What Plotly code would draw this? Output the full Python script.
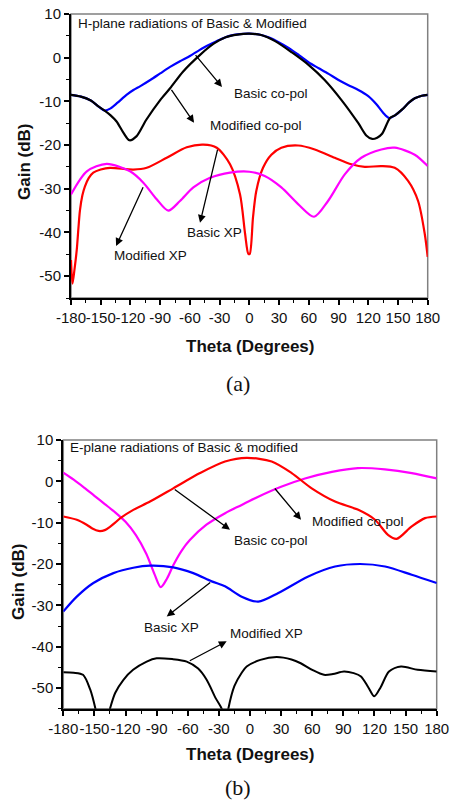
import plotly.graph_objects as go

# ---------------- (a) H-plane ----------------
h_blue_theta = [-180, -170, -160, -152, -146, -140, -133, -124, -117, -110, -100, -90, -80, -70, -60, -50, -40, -30, -20, -10, 0, 10, 20, 30, 40, 50, 60, 70, 80, 90, 100, 110, 120, 128, 135, 141, 147, 154, 161, 167, 174, 180]
h_blue_gain = [-8.5, -8.9, -9.8, -11.2, -12.1, -11.6, -10.3, -8.5, -7.4, -6.5, -5.1, -3.6, -2.1, -0.8, 0.4, 1.8, 3.0, 4.1, 5.0, 5.4, 5.5, 5.3, 4.6, 3.5, 2.2, 0.6, -1.1, -2.4, -3.7, -5.1, -6.3, -7.4, -8.8, -10.6, -12.6, -13.8, -13.2, -11.9, -10.3, -9.3, -8.7, -8.5]

h_black_theta = [-180, -170, -160, -152, -146, -140, -134, -127, -121, -114, -104, -90, -80, -67, -50, -36, -24, -12, 0, 12, 26, 43, 60, 76, 93, 110, 118, 124, 129, 134, 142, 147, 154, 161, 167, 174, 180]
h_black_gain = [-8.5, -8.9, -9.8, -11.2, -12.1, -13.2, -14.6, -17.2, -18.9, -18.0, -14.2, -9.7, -7.0, -3.2, 0.6, 3.2, 4.7, 5.3, 5.5, 5.2, 3.8, 1.2, -1.7, -5.1, -9.7, -15.0, -17.8, -18.6, -18.3, -17.4, -13.8, -13.2, -11.9, -10.3, -9.3, -8.7, -8.5]

h_red_theta = [-180, -178.5, -176.5, -174.2, -172.5, -171, -168.5, -166, -162, -157.5, -150, -140.6, -117, -103.6, -83.4, -63.2, -46.4, -32.9, -19.5, -9.4, -4.3, -1, 0.4, 3.7, 7, 13.8, 22.2, 32.3, 49.2, 66, 86.2, 103, 116.5, 133.2, 146.7, 160.2, 170.3, 177, 180]
h_red_gain = [-46.3, -51.7, -48.5, -44.0, -39.0, -35.0, -31.5, -29.5, -27.5, -26.3, -25.6, -25.2, -25.6, -25.2, -22.9, -20.5, -19.9, -20.6, -24.4, -31.3, -40.3, -44.9, -44.9, -36.5, -30.5, -25.2, -22.2, -20.6, -20.1, -21.0, -22.9, -24.4, -25.0, -24.8, -25.2, -28.2, -32.8, -40.3, -45.6]

h_magenta_theta = [-180, -164, -144, -120.4, -107, -93.5, -81.8, -70, -56.5, -39.7, -19.5, 0, 15.5, 32.3, 49.2, 65.3, 79.4, 96.3, 113, 133.2, 146.7, 166.9, 180]
h_magenta_gain = [-31.3, -26.0, -24.3, -26.0, -28.6, -32.4, -35.0, -32.8, -29.7, -27.5, -26.3, -26.1, -27.1, -29.7, -33.5, -36.4, -32.8, -26.7, -22.9, -21.0, -20.6, -22.2, -24.8]

# ---------------- (b) E-plane ----------------
e_red_theta = [-180, -167, -157.5, -152, -146, -140, -135, -130, -125, -112.5, -96.4, -74, -48.2, -24.1, -3.2, 20.9, 40.2, 59.5, 82, 104.4, 120.5, 133.3, 141.4, 155.9, 168.7, 180]
e_red_gain = [-8.5, -9.3, -10.5, -11.4, -12.0, -11.8, -11.0, -10.0, -8.9, -6.9, -4.9, -1.7, 2.0, 4.8, 5.7, 4.8, 2.0, -1.7, -4.9, -6.9, -9.3, -13.0, -13.9, -10.9, -8.9, -8.5]

e_magenta_theta = [-180, -170, -160, -150, -140, -130, -120, -110, -100, -92, -86, -80, -74, -66, -58, -42, -24, -8, 8, 30, 53, 79, 104, 130, 156, 180]
e_magenta_gain = [2.1, 0.4, -1.5, -3.5, -5.5, -7.5, -9.8, -13.0, -17.5, -22.5, -25.6, -23.5, -20.3, -16.8, -14.2, -10.5, -7.7, -5.7, -3.7, -1.3, 0.7, 2.3, 3.2, 2.9, 2.0, 0.7]

e_blue_theta = [-180, -167, -151, -131.7, -112.5, -96.4, -74, -54.7, -36.9, -24.1, -8, 8, 27.3, 56.2, 82, 106.1, 130.2, 155.9, 180]
e_blue_gain = [-31.5, -27.9, -24.6, -22.2, -20.9, -20.4, -20.8, -22.2, -24.2, -25.4, -27.9, -29.1, -27.0, -23.0, -20.6, -20.0, -20.6, -22.6, -24.6]

e_black_theta = [-180, -170, -161, -154, -149, -145, -140, -135, -130, -122, -112.7, -99.6, -90, -75, -61, -50, -41.8, -33, -27.3, -24, -20.9, -15, -8, -3.2, 10, 25.7, 40, 48.9, 60, 71.3, 80, 90.6, 100, 107, 114, 119.8, 126, 134, 145.6, 161.6, 180]
e_black_gain = [-46.2, -46.3, -46.8, -50.4, -55, -60, -60, -55, -51.2, -48.0, -45.6, -43.6, -42.8, -43.0, -43.6, -45.3, -48.0, -52.5, -55, -60, -55, -49.5, -46.3, -44.8, -43.2, -42.5, -43.1, -44.0, -45.6, -46.8, -46.6, -46.0, -46.4, -47.2, -49.8, -52.0, -49.8, -46.0, -44.8, -45.6, -46.0]

x_ticks = list(range(-180, 181, 30))
x_tick_text = [str(v) for v in x_ticks]
y_ticks = list(range(-50, 11, 10))
y_tick_text = [str(v) for v in y_ticks]

FONT = "'Liberation Sans', Arial, sans-serif"
SERIF = "'Liberation Serif', 'Times New Roman', serif"

fig = go.Figure()

def add(theta, gain, color, xa, ya, width=2.2):
    fig.add_trace(go.Scatter(x=theta, y=gain, mode="lines", xaxis=xa, yaxis=ya,
                             line=dict(color=color, width=width, shape="spline", smoothing=0.8),
                             showlegend=False, hoverinfo="skip"))

add(h_blue_theta, h_blue_gain, "#0000FF", "x", "y")
add(h_black_theta, h_black_gain, "#000000", "x", "y")
add(h_red_theta, h_red_gain, "#FF0000", "x", "y")
add(h_magenta_theta, h_magenta_gain, "#FF00FF", "x", "y")

add(e_magenta_theta, e_magenta_gain, "#FF00FF", "x2", "y2")
add(e_red_theta, e_red_gain, "#FF0000", "x2", "y2")
add(e_blue_theta, e_blue_gain, "#0000FF", "x2", "y2")
add(e_black_theta, e_black_gain, "#000000", "x2", "y2", width=2.0)

W, H = 451, 801
top_x = [71 / W, 427.7 / W]
top_y = [1 - 298 / H, 1 - 14 / H]
bot_x = [63.3 / W, 436.7 / W]
bot_y = [1 - 708.7 / H, 1 - 440 / H]

def xaxis(domain, anchor):
    return dict(domain=domain, anchor=anchor, range=[-180, 180], tickvals=x_ticks, ticktext=x_tick_text,
                tickangle=0, automargin=False,
                ticks="outside", ticklen=5, tickwidth=1.5, tickcolor="black",
                minor=dict(dtick=15, tick0=0, ticks="outside", ticklen=3, tickwidth=1.2, tickcolor="black"),
                showline=True, linecolor="black", linewidth=2, showgrid=False, zeroline=False,
                tickfont=dict(family=FONT, size=15, color="#111"))

def yaxis(domain, anchor):
    return dict(domain=domain, anchor=anchor, range=[-55, 10], tickvals=y_ticks, ticktext=y_tick_text,
                automargin=False,
                ticks="outside", ticklen=5, tickwidth=1.5, tickcolor="black",
                minor=dict(dtick=5, tick0=0, ticks="outside", ticklen=3, tickwidth=1.2, tickcolor="black"),
                showline=True, linecolor="black", linewidth=2, showgrid=False, zeroline=False,
                tickfont=dict(family=FONT, size=15, color="#111"))

shapes = []
for dx, dy in [(top_x, top_y), (bot_x, bot_y)]:
    shapes.append(dict(type="rect", xref="paper", yref="paper", x0=dx[0], x1=dx[1], y0=dy[0], y1=dy[1],
                       line=dict(color="#808080", width=1.5), layer="below"))

ann = []
def text(x, y, s, xr, yr, size=13.5, xanchor="left"):
    ann.append(dict(x=x, y=y, xref=xr, yref=yr, text=s, showarrow=False, xanchor=xanchor, yanchor="middle",
                    font=dict(family=FONT, size=size, color="#111")))

def arrow(x0, y0, x1, y1, xr, yr):
    # from (x0,y0) on the curve to arrow head at (x1,y1)
    ann.append(dict(x=x1, y=y1, ax=x0, ay=y0, xref=xr, yref=yr, axref=xr, ayref=yr, text=" ",
                    showarrow=True, arrowhead=2, arrowsize=1.2, arrowwidth=1.3, arrowcolor="black",
                    font=dict(size=1)))

# (a) annotations
text(-175, 7.9, "H-plane radiations of Basic & Modified", "x", "y")
arrow(-55.8, 1.0, -27.6, -6.7, "x", "y")
text(-17.5, -8.1, "Basic co-pol", "x", "y")
arrow(-80, -6.9, -55.8, -14.9, "x", "y")
text(-41.7, -15.6, "Modified co-pol", "x", "y")
arrow(-31.6, -20.6, -49.8, -37.8, "x", "y")
text(-65, -39.9, "Basic XP", "x", "y")
arrow(-106.3, -29.2, -134.5, -43.1, "x", "y")
text(-138.5, -45.3, "Modified XP", "x", "y")

# (b) annotations
text(-175.2, 8.2, "E-plane radiations of Basic & modified", "x2", "y2")
arrow(-74, -1.7, -19.3, -11.7, "x2", "y2")
text(-17.7, -14.2, "Basic co-pol", "x2", "y2")
arrow(22.5, -1.3, 49.2, -9.3, "x2", "y2")
text(58, -9.7, "Modified co-pol", "x2", "y2")
arrow(-36.9, -24.2, -80.3, -32.7, "x2", "y2")
text(-104.3, -35.3, "Basic XP", "x2", "y2")
arrow(-59.5, -43.6, -22.5, -38.7, "x2", "y2")
text(-21, -36.9, "Modified XP", "x2", "y2")

# axis titles and panel labels
for yc, xc in [(162, 24), (582, 18)]:
    ann.append(dict(x=xc / W, y=1 - yc / H, xref="paper", yref="paper", text="<b>Gain (dB)</b>", textangle=-90,
                    showarrow=False, xanchor="center", yanchor="middle", font=dict(family=FONT, size=17, color="#111")))
for yc in [347, 754]:
    ann.append(dict(x=250 / W, y=1 - yc / H, xref="paper", yref="paper", text="<b>Theta (Degrees)</b>",
                    showarrow=False, xanchor="center", yanchor="middle", font=dict(family=FONT, size=17, color="#111")))
for yc, s in [(383, "(a)"), (787, "(b)")]:
    ann.append(dict(x=238 / W, y=1 - yc / H, xref="paper", yref="paper", text=s,
                    showarrow=False, xanchor="center", yanchor="middle", font=dict(family=SERIF, size=22, color="#111")))

fig.update_layout(
    width=W, height=H, margin=dict(l=0, r=0, t=0, b=0),
    paper_bgcolor="white", plot_bgcolor="white",
    xaxis=xaxis(top_x, "y"), yaxis=yaxis(top_y, "x"),
    xaxis2=xaxis(bot_x, "y2"), yaxis2=yaxis(bot_y, "x2"),
    shapes=shapes, annotations=ann,
)

fig.write_html("out.html")
